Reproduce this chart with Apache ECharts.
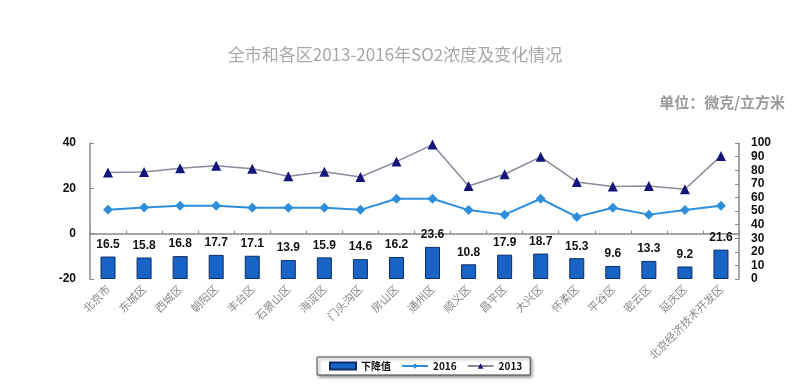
<!DOCTYPE html>
<html><head><meta charset="utf-8">
<script src="https://cdn.jsdelivr.net/npm/echarts@6/dist/echarts.min.js"></script>
<style>html,body{margin:0;padding:0;background:#fff}#c{width:800px;height:384px}</style>
</head><body><div id="c"></div>
<script>
const categories = ['北京市','东城区','西城区','朝阳区','丰台区','石景山区','海淀区','门头沟区','房山区','通州区','顺义区','昌平区','大兴区','怀柔区','平谷区','密云区','延庆区','北京经济技术开发区'];
const decrease = [16.5,15.8,16.8,17.7,17.1,13.9,15.9,14.6,16.2,23.6,10.8,17.9,18.7,15.3,9.6,13.3,9.2,21.6];
const v2016 = [10.5,11.5,12.3,12.3,11.4,11.4,11.4,10.5,15.4,15.4,10.4,8.4,15.4,7.4,11.4,8.4,10.4,12.3];
const v2013 = [27.0,27.2,28.9,30.0,28.6,25.3,27.3,25.0,31.8,39.3,21.0,26.2,33.9,22.8,20.8,21.0,19.6,34.3];
const leftTicks = [-20,0,20,40];
const rightTicks = [0,10,20,30,40,50,60,70,80,90,100];

const chart = echarts.init(document.getElementById('c'));
const axisFont = {fontFamily:'Liberation Sans', fontWeight:'bold', fontSize:12, color:'#111'};
chart.setOption({
  backgroundColor:'#fff',
  animation:false,
  title:[
    {text:'全市和各区2013-2016年SO2浓度及变化情况', left:390, top:41, textAlign:'center',
     textStyle:{fontFamily:'Noto Sans CJK SC', fontSize:17, fontWeight:'normal', color:'#a8a8a8'}},
    {text:'单位：微克/立方米', right:10, top:90,
     textStyle:{fontFamily:'Noto Sans CJK SC', fontSize:15, fontWeight:'bold', color:'#9a9a9a'}}
  ],
  legend:{
    left:317, top:357, itemGap:10, padding:[4,8,4,12],
    borderColor:'#444', borderWidth:1, shadowColor:'rgba(0,0,0,0.4)', shadowBlur:3, shadowOffsetX:2, shadowOffsetY:2,
    backgroundColor:'#fff', itemWidth:26, itemHeight:7,
    textStyle:{fontFamily:'Noto Sans CJK SC', fontSize:10, fontWeight:'bold', color:'#111'},
    data:[{name:'下降值', icon:'rect'},{name:'2016'},{name:'2013'}]
  },
  grid:{left:90, right:61, top:143, bottom:105},
  xAxis:{type:'category', data:categories, boundaryGap:true,
    axisLine:{lineStyle:{color:'#888', width:1.5}},
    axisTick:{show:true, alignWithLabel:false, length:3, inside:true, lineStyle:{color:'#888'}},
    axisLabel:{interval:0, rotate:45, margin:8, fontFamily:'Noto Sans CJK SC', fontSize:11, color:'#888'}
  },
  yAxis:[
    {type:'value', min:-20, max:40, interval:20, position:'left',
     splitLine:{show:false},
     axisLine:{show:true, lineStyle:{color:'#888', width:1.5}},
     axisTick:{show:true, inside:true, length:4, lineStyle:{color:'#888'}},
     axisLabel:Object.assign({margin:14, formatter:v=>leftTicks.includes(v)?String(v):''}, axisFont)},
    {type:'value', min:0, max:100, interval:10, position:'right',
     splitLine:{show:false},
     axisLine:{show:true, lineStyle:{color:'#888', width:1.5}},
     axisTick:{show:true, inside:true, length:4, lineStyle:{color:'#888'}},
     axisLabel:Object.assign({margin:12, formatter:v=>rightTicks.includes(v)?String(v):''}, axisFont)}
  ],
  series:[
    {name:'下降值', type:'bar', yAxisIndex:1, data:decrease, barWidth:15,
     itemStyle:{color:'#1763c6', borderColor:'#0c2d66', borderWidth:1},
     label:{show:true, position:'top', distance:6, fontFamily:'Liberation Sans', fontWeight:'bold', fontSize:12, color:'#111'}},
    {name:'2016', type:'line', yAxisIndex:0, data:v2016, symbol:'diamond', symbolSize:10,
     lineStyle:{color:'#2d8fdc', width:2}, itemStyle:{color:'#2d8fdc'}},
    {name:'2013', type:'line', yAxisIndex:0, data:v2013, symbol:'triangle', symbolSize:10,
     lineStyle:{color:'#8a8a9a', width:1.5}, itemStyle:{color:'#14147a'}}
  ]
});
</script></body></html>
